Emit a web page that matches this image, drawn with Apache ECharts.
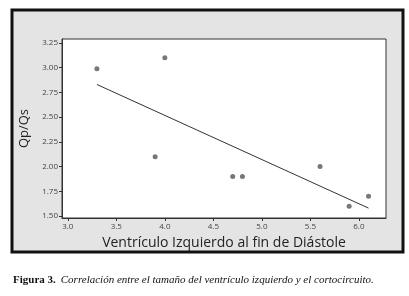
<!DOCTYPE html>
<html>
<head>
<meta charset="utf-8">
<script src="https://cdn.jsdelivr.net/npm/echarts@6/dist/echarts.min.js"></script>
<style>
  html, body { margin: 0; padding: 0; background: #fff; }
  #chart { width: 409px; height: 296px; }
</style>
</head>
<body>
<div id="chart"></div>
<script>
// Qp/Qs vs left ventricle end-diastolic size
const vtdX = [3.3, 4.0, 3.9, 4.7, 4.8, 5.6, 5.9, 6.1];
const qpqsY = [2.99, 3.10, 2.10, 1.90, 1.90, 2.00, 1.60, 1.70];
// fitted line, endpoints
const fitX = [3.3, 6.1];
const fitY = [2.83, 1.58];
const xTicks = [3.0, 3.5, 4.0, 4.5, 5.0, 5.5, 6.0];
const yTicks = [1.50, 1.75, 2.00, 2.25, 2.50, 2.75, 3.00, 3.25];

const chart = echarts.init(document.getElementById('chart'));

const tickFont = { color: '#444', fontSize: 8, fontFamily: 'Open Sans' };

chart.setOption({
  animation: false,
  backgroundColor: '#fff',
  graphic: [
    {
      type: 'rect', z: -10, silent: true,
      shape: { x: 12, y: 10, width: 391, height: 242 },
      style: { fill: '#e4e4e4', stroke: '#111', lineWidth: 3 }
    }
  ],
  title: {
    left: 8, top: 266,
    text: '{b|Figura 3.} {i|Correlación entre el tamaño del ventrículo izquierdo y el cortocircuito.}',
    textStyle: {
      fontWeight: 'normal',
      rich: {
        b: { fontFamily: 'Liberation Serif', fontWeight: 'bold', fontSize: 11, color: '#111' },
        i: { fontFamily: 'Liberation Serif', fontStyle: 'italic', fontWeight: 'normal', fontSize: 11, color: '#111' }
      }
    }
  },
  grid: { left: 62, top: 39, width: 324, height: 179, show: true, backgroundColor: '#fff', borderColor: '#333', borderWidth: 1 },
  xAxis: {
    type: 'value', min: 2.94, max: 6.28,
    name: 'Ventrículo Izquierdo al fin de Diástole',
    nameLocation: 'middle', nameGap: 13,
    nameTextStyle: { fontFamily: 'Open Sans', fontSize: 14, color: '#222' },
    axisLine: { show: true, onZero: false, lineStyle: { color: '#333' } },
    axisTick: { show: true, length: 3, lineStyle: { color: '#333' }, customValues: xTicks },
    axisLabel: Object.assign({ margin: 5, customValues: xTicks, formatter: v => v.toFixed(1) }, tickFont),
    splitLine: { show: false }
  },
  yAxis: {
    type: 'value', min: 1.48, max: 3.29,
    name: 'Qp/Qs',
    nameLocation: 'middle', nameGap: 23, nameRotate: 90,
    nameTextStyle: { fontFamily: 'Open Sans', fontSize: 13, color: '#222' },
    axisLine: { show: true, onZero: false, lineStyle: { color: '#333' } },
    axisTick: { show: true, length: 3, lineStyle: { color: '#333' }, customValues: yTicks },
    axisLabel: Object.assign({ margin: 4, customValues: yTicks, formatter: v => v.toFixed(2) }, tickFont),
    splitLine: { show: false }
  },
  series: [
    {
      type: 'scatter',
      data: vtdX.map((x, i) => [x, qpqsY[i]]),
      symbolSize: 5,
      itemStyle: { color: '#555' }
    },
    {
      type: 'line',
      data: fitX.map((x, i) => [x, fitY[i]]),
      symbol: 'none',
      lineStyle: { color: '#333', width: 1 }
    }
  ]
});
</script>
</body>
</html>
